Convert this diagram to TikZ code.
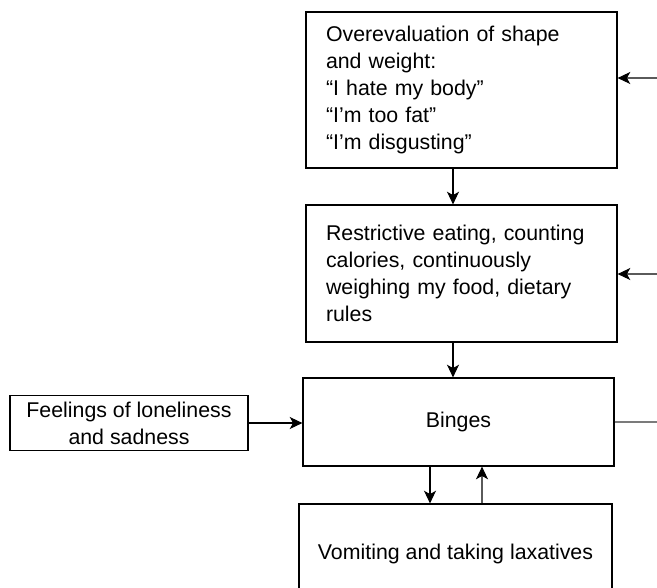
\documentclass[tikz,border=0pt]{standalone}
\usepackage{fontspec}
\setmainfont{Liberation Sans}
\usetikzlibrary{arrows.meta,positioning}
\definecolor{lingray}{RGB}{90,90,90}

\begin{document}
\begin{tikzpicture}[
  x=0.75pt, y=-0.75pt,
  box/.style={rectangle, draw=black, line width=0.9pt, inner sep=0pt,
              font=\fontsize{16}{20.3}\selectfont},
  leftbox/.style={box, align=left, text width=#1},
  arr/.style={-{Stealth[length=9.5pt, width=9pt, inset=2.5pt, color=black]}, line width=0.8pt},
  garr/.style={arr, color=lingray},
  gline/.style={line width=0.8pt, color=lingray!80}
]
\useasboundingbox (0,0) rectangle (657,587);
\clip (0,0) rectangle (657,587);
% ── Boxes ─────────────────────────────
\node[leftbox=271*0.75pt, minimum width=311*0.75pt, minimum height=156*0.75pt]
  (over) at (461.5,90)
  {Overevaluation of shape\\and weight:\\``I hate my body''\\``I'm too fat''\\``I'm disgusting''};
\node[leftbox=271*0.75pt, minimum width=311*0.75pt, minimum height=137*0.75pt]
  (restr) at (461.5,273.5)
  {Restrictive eating, counting\\calories, continuously\\weighing my food, dietary\\rules};
\node[box, minimum width=311*0.75pt, minimum height=88*0.75pt]
  (binge) at (458.5,422) {Binges};
\node[box, minimum width=313*0.75pt, minimum height=100*0.75pt]
  (vomit) at (455.5,554) {Vomiting and taking laxatives};
\node[box, align=center, minimum width=238*0.75pt, minimum height=55*0.75pt]
  (lonely) at (129,423) {Feelings of loneliness\\and sadness};
% ── Connectors ────────────────────────
\coordinate (mid) at (453,0);
\coordinate (down) at (430,0);
\coordinate (up) at (482,0);
\coordinate (in1) at (657,78);
\coordinate (in2) at (657,274);
\coordinate (out3) at (657,422);
\draw[arr] (over.south -| mid) -- (restr.north -| mid);
\draw[arr] (restr.south -| mid) -- (binge.north -| mid);
\draw[arr] (binge.south -| down) -- (vomit.north -| down);
\draw[garr] (vomit.north -| up) -- (binge.south -| up);
\draw[arr] (lonely.east) -- (lonely.east -| binge.west);
\draw[garr] (in1) -- (in1 -| over.east);
\draw[garr] (in2) -- (in2 -| restr.east);
\draw[gline] (binge.east) -- (out3);
\end{tikzpicture}
\end{document}
